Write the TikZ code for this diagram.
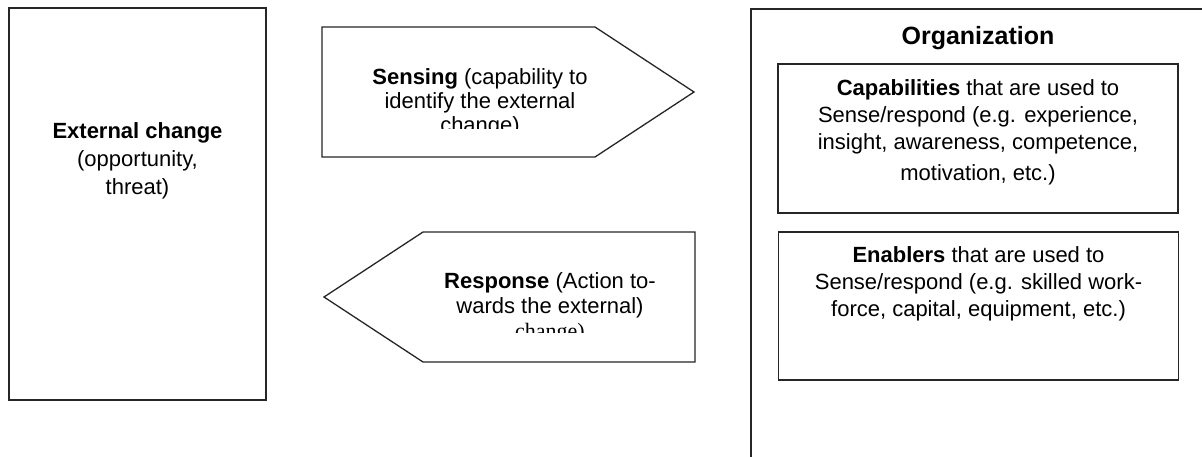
\documentclass[tikz,border=0pt]{standalone}
\usepackage{fontspec}
\setmainfont{Liberation Sans}
\newfontfamily\serifchange{Liberation Serif}
\begin{document}
\begin{tikzpicture}[x=1pt,y=-1pt]
\tikzset{
  box/.style={draw=black!85, line width=1.3pt},
  frame/.style={box, minimum width=#1, inner sep=0pt},
  txt/.style={font=\fontsize{22}{27}\selectfont, align=center, inner sep=0pt},
}
\useasboundingbox (0,0) rectangle (1202,456);
\fill[white] (0,0) rectangle (1202,456);
\clip (0,0) rectangle (1202,456);

% External change
\node[frame=257pt, minimum height=392pt] (ext) at (137.5,204) {};
\node[txt, font=\fontsize{22}{28}\selectfont] (exttxt) at (137.5,161)
  {\textbf{External change}\\(opportunity,\\threat)};

% Sensing arrow
\coordinate (sTL) at (322,27);
\coordinate (sTR) at (595,27);
\coordinate (sTip) at (694,92);
\coordinate (sBR) at (595,157);
\coordinate (sBL) at (322,157);
\draw[box, line join=miter] (sTL) -- (sTR) -- (sTip) -- (sBR) -- (sBL) -- cycle;
\begin{scope}
  \clip (330,30) rectangle (690,128);
  \node[txt, font=\fontsize{22}{24}\selectfont] (sensetxt) at (480,103)
    {\textbf{Sensing} (capability to\\identify the external\\change)};
\end{scope}

% Response arrow
\coordinate (rTR) at (695,232);
\coordinate (rTL) at (423,232);
\coordinate (rTip) at (324,297);
\coordinate (rBL) at (423,362);
\coordinate (rBR) at (695,362);
\draw[box, line join=miter] (rTR) -- (rTL) -- (rTip) -- (rBL) -- (rBR) -- cycle;
\begin{scope}
  \clip (330,235) rectangle (690,332);
  \node[txt, font=\fontsize{22}{25}\selectfont] (resptxt) at (550,308)
    {\textbf{Response} (Action to-\\wards the external)\\{\serifchange change)}};
\end{scope}

% Organization
\coordinate (oTR) at (1215,9);
\coordinate (oTL) at (751,9);
\coordinate (oBL) at (751,470);
\draw[box] (oTR) -- (oTL) -- (oBL);
\node[font=\fontsize{25}{30}\selectfont\bfseries, inner sep=0pt] (org) at (978,38) {Organization};

\node[frame=400pt, minimum height=149pt] (cap) at (978,138.5) {};
\node[txt] (captxt) at (978,132)
  {\textbf{Capabilities} that are used to\\Sense/respond (e.g. experience,\\insight, awareness, competence,\\[4pt]motivation, etc.)};

\node[frame=400pt, minimum height=148pt] (ena) at (978.5,306) {};
\node[txt] (enatxt) at (978.5,284)
  {\textbf{Enablers} that are used to\\Sense/respond (e.g. skilled work-\\force, capital, equipment, etc.)};
\end{tikzpicture}
\end{document}
